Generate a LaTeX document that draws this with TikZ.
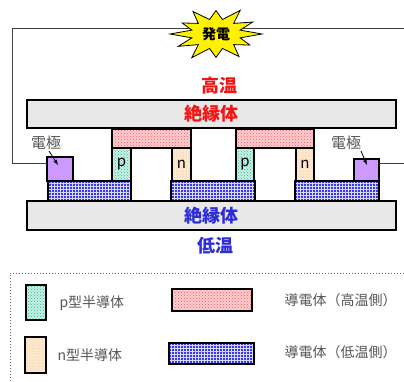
\documentclass[tikz,border=0pt]{standalone}
\usepackage{fontspec}
\newfontfamily\jp{Noto Sans CJK JP}
\usetikzlibrary{patterns}
\definecolor{insfill}{RGB}{232,232,232}
\definecolor{hotbase}{RGB}{255,205,208}
\definecolor{hotdot}{RGB}{235,95,105}
\definecolor{coldbase}{RGB}{55,55,235}
\definecolor{pbase}{RGB}{200,240,228}
\definecolor{pdot}{RGB}{40,185,150}
\definecolor{nbase}{RGB}{253,232,205}
\definecolor{ndot}{RGB}{225,190,150}
\definecolor{elfill}{RGB}{204,153,255}
\definecolor{labgray}{RGB}{85,85,85}
\definecolor{hotred}{RGB}{245,20,20}
\definecolor{coldblue}{RGB}{45,45,215}
\begin{document}
\begin{tikzpicture}[x=1pt,y=-1pt,
  every node/.style={font=\jp},
  blk/.style={rectangle,draw=black,inner sep=0pt,outer sep=0pt},
  insul/.style={blk,line width=1.8pt,fill=insfill},
  hotc/.style={blk,line width=1.2pt,preaction={fill=hotbase},pattern=crosshatch dots,pattern color=hotdot},
  coldc/.style={blk,line width=1.2pt,preaction={fill=coldbase},pattern=grid,pattern color=white!85!blue},
  ptype/.style={blk,line width=1.2pt,preaction={fill=pbase},pattern=crosshatch dots,pattern color=pdot},
  ntype/.style={blk,line width=1.2pt,preaction={fill=nbase},pattern=dots,pattern color=ndot},
  electrode/.style={blk,line width=1.2pt,fill=elfill},
  wire/.style={draw=black!75,line width=0.9pt},
  burstshape/.style={draw=black,line width=0.8pt,fill=yellow,line join=miter},
  biglabel/.style={font=\jp\bfseries\fontsize{18}{18}\selectfont},
  smalllabel/.style={font=\jp\fontsize{15}{15}\selectfont,text=labgray},
  leg/.style={font=\jp\fontsize{14}{14}\selectfont,text=labgray,anchor=west},
  legletter/.style={font=\jp\fontsize{15}{15}\selectfont}
]
\useasboundingbox (0,0) rectangle (404,381);
\clip (0,0) rectangle (404,381);

% open ends of the circuit beyond the right edge
\coordinate (wireTL) at (12,28);
\coordinate (wireBL) at (12,163);
\coordinate (wireTR) at (406,28);
\coordinate (wireBR) at (406,163);

% insulating plates
\node[insul,minimum width=369pt,minimum height=28pt] (topins) at (211.5,114) {};
\node[insul,minimum width=369pt,minimum height=29pt] (botins) at (211.5,215.5) {};

% hot-side conductors
\node[hotc,minimum width=79pt,minimum height=19pt] (hot1) at (151.5,138.5) {};
\node[hotc,minimum width=78pt,minimum height=19pt] (hot2) at (275,138.5) {};

% semiconductor legs
\node[ptype,minimum width=19pt,minimum height=33pt] (p1) at (121.5,164.5) {};
\node[ntype,minimum width=19pt,minimum height=33pt] (n1) at (181.5,164.5) {};
\node[ptype,minimum width=18pt,minimum height=33pt] (p2) at (245,164.5) {};
\node[ntype,minimum width=18pt,minimum height=33pt] (n2) at (305,164.5) {};
\node[legletter] at (p1) {p};
\node[legletter] at (n1) {n};
\node[legletter] at (p2) {p};
\node[legletter] at (n2) {n};

% cold-side conductors
\node[coldc,minimum width=83pt,minimum height=20pt] (cold1) at (89.5,191) {};
\node[coldc,minimum width=84pt,minimum height=20pt] (cold2) at (213,191) {};
\node[coldc,minimum width=84pt,minimum height=20pt] (cold3) at (337,191) {};

% electrodes
\node[electrode,minimum width=26pt,minimum height=24pt] (el1) at (60,169) {};
\node[electrode,minimum width=25pt,minimum height=22pt] (el2) at (366.5,170) {};

% external circuit
\draw[wire] (el1.west |- wireBL) -- (wireBL) -- (wireTL) -- (wireTR);
\draw[wire] (el2.east |- wireBR) -- (wireBR);

% generation burst: 12 irregular spikes round an elliptic body
\draw[burstshape] ({216+46*1.0},34)
  \foreach \i/\f in {0/0.85,1/1.00,2/0.90,3/1.05,4/0.95,5/1.00,
                     6/0.85,7/1.00,8/0.90,9/1.05,10/0.92,11/1.0} {
    -- ({216+25*cos(\i*360/12+360/24)},{34+15*sin(\i*360/12+360/24)})
    -- ({216+46*\f*cos((\i+1)*360/12)},{34+26*\f*sin((\i+1)*360/12)})
  } -- cycle;
\node[font=\jp\bfseries\fontsize{14}{14}\selectfont] (gen) at (216,34) {発電};

% temperature and plate labels
\node[biglabel,text=hotred] (hot) at (219,86) {高温};
\node[biglabel,text=hotred] at (topins) {絶縁体};
\node[biglabel,text=coldblue] at (botins) {絶縁体};
\node[biglabel,text=coldblue] (cold) at (215,246) {低温};

% electrode labels
\node[smalllabel] (ellab1) at (46,143) {電極};
\node[smalllabel] (ellab2) at (346,143) {電極};
\draw[-latex,line width=0.8pt] (49,151) -- (58,165);
\draw[-latex,line width=0.8pt] (361,151) -- (367,165);

% legend
\draw[black!60,line width=1pt,dotted] (10,390) -- (10,273) -- (410,273);
\node[ptype,minimum width=20pt,minimum height=35pt] (legp) at (36,302.5) {};
\node[leg] (legptxt) at (56,303) {p型半導体};
\node[ntype,minimum width=21pt,minimum height=36pt] (legn) at (35.5,355) {};
\node[leg] (legntxt) at (54,355) {n型半導体};
\node[hotc,minimum width=80pt,minimum height=22pt] (leghot) at (212,300) {};
\node[leg] (leghottxt) at (281,300) {導電体（高温側）};
\node[coldc,minimum width=85pt,minimum height=21pt] (legcold) at (211.5,353.5) {};
\node[leg] (legcoldtxt) at (281,352) {導電体（低温側）};
\end{tikzpicture}
\end{document}
